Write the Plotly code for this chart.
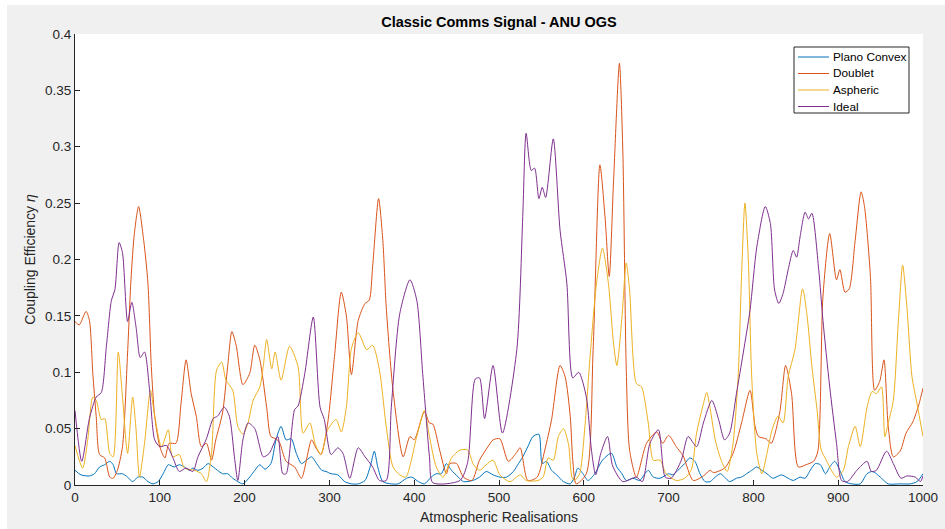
import plotly.graph_objects as go

# ---------------- data ----------------
pc_x = [0,7,17,23,29,35,41,45,49,56,62,68,74,80,86,92,98,104,110,117,123,129,135,139,145,151,157,163,168,174,180,186,192,198,206,212,218,224,231,237,243,249,255,261,267,273,279,285,291,296,302,310,318,326,334,342,348,353,357,363,373,381,391,397,405,412,420,426,432,438,444,452,458,469,477,485,493,501,509,517,523,528,534,540,547,551,556,562,568,576,584,589,593,599,605,613,621,629,633,639,645,650,658,666,672,676,682,690,700,705,711,719,725,731,737,743,749,755,761,766,772,780,786,792,798,804,810,816,823,833,841,847,855,861,867,873,879,885,890,896,902,908,916,926,934,940,945,951,959,973,985,993,1000]
pc_y = [0.013,0.009,0.008,0.010,0.016,0.018,0.021,0.018,0.010,0.010,0.007,0.003,0.007,0.007,0.003,0.001,0.003,0.010,0.018,0.016,0.018,0.016,0.013,0.015,0.013,0.015,0.019,0.016,0.013,0.010,0.010,0.006,0.003,0.001,0.007,0.013,0.018,0.014,0.019,0.040,0.052,0.040,0.041,0.028,0.019,0.022,0.025,0.019,0.013,0.012,0.010,0.009,0.003,0.001,0.001,0.004,0.016,0.030,0.016,0.003,0.001,0.001,0.006,0.007,0.003,0.001,0.007,0.010,0.010,0.019,0.013,0.007,0.003,0.004,0.007,0.012,0.009,0.007,0.007,0.012,0.019,0.025,0.034,0.043,0.045,0.019,0.021,0.013,0.009,0.003,0.001,0.007,0.015,0.010,0.004,0.010,0.021,0.027,0.028,0.016,0.010,0.004,0.006,0.004,0.010,0.013,0.007,0.006,0.010,0.009,0.013,0.019,0.024,0.021,0.010,0.003,0.003,0.007,0.010,0.007,0.003,0.006,0.007,0.010,0.013,0.016,0.013,0.010,0.006,0.009,0.006,0.004,0.007,0.006,0.013,0.019,0.018,0.010,0.016,0.021,0.013,0.003,0.001,0.001,0.010,0.012,0.010,0.006,0.001,0.001,0.001,0.003,0.010]

db_x = [0,5,13,17,21,25,29,35,41,45,50,56,62,66,70,75,81,86,90,94,100,106,111,119,125,131,137,143,149,155,161,166,174,180,185,190,198,206,212,218,226,231,237,241,249,259,267,279,284,290,298,306,314,320,326,334,342,347,351,358,363,367,375,387,395,400,412,418,422,430,438,442,450,458,468,477,487,493,501,511,520,525,534,545,554,562,572,578,584,587,591,603,611,619,625,630,635,642,646,650,654,662,674,686,693,700,709,717,729,741,749,753,766,776,786,796,802,806,815,821,831,838,845,853,862,871,876,882,890,898,902,908,913,920,927,931,938,943,949,954,959,965,973,980,988,995,1000]
db_y = [0.145,0.142,0.154,0.146,0.099,0.061,0.027,0.024,0.007,0.006,0.013,0.034,0.117,0.182,0.223,0.247,0.217,0.179,0.105,0.061,0.034,0.024,0.037,0.037,0.072,0.111,0.081,0.061,0.034,0.037,0.022,0.040,0.064,0.105,0.136,0.124,0.089,0.099,0.124,0.111,0.069,0.043,0.041,0.038,0.021,0.016,0.006,0.040,0.033,0.027,0.055,0.114,0.171,0.150,0.098,0.146,0.161,0.164,0.194,0.254,0.217,0.158,0.084,0.025,0.043,0.040,0.065,0.055,0.054,0.031,0.010,0.019,0.019,0.007,0.004,0.022,0.034,0.040,0.041,0.021,0.028,0.033,0.004,0.007,0.031,0.058,0.106,0.096,0.061,0.022,0.001,0.010,0.120,0.284,0.238,0.185,0.268,0.374,0.297,0.105,0.031,0.007,0.037,0.047,0.037,0.044,0.034,0.026,0.004,0.008,0.013,0.011,0.015,0.028,0.055,0.084,0.052,0.043,0.041,0.037,0.064,0.106,0.081,0.016,0.018,0.021,0.030,0.167,0.223,0.182,0.191,0.171,0.174,0.217,0.260,0.247,0.185,0.084,0.092,0.111,0.052,0.025,0.030,0.046,0.056,0.071,0.086]

as_x = [0,9,15,21,25,31,35,41,45,51,56,62,68,72,76,82,89,94,102,110,115,123,129,141,149,155,161,167,173,178,186,192,198,204,210,218,222,226,232,236,243,253,263,269,277,283,290,298,308,314,320,326,334,344,351,359,367,375,383,390,403,412,418,426,434,444,454,463,470,477,485,493,501,513,525,532,546,552,558,564,570,576,582,586,589,595,601,607,615,622,629,635,639,645,650,654,662,668,676,682,690,697,709,719,727,733,741,745,749,755,762,769,776,782,786,790,794,798,804,810,816,822,829,835,841,849,858,863,869,875,880,886,892,898,906,912,920,926,934,940,945,951,955,959,965,971,976,981,987,993,1000]
as_y = [0.035,0.015,0.040,0.078,0.075,0.058,0.059,0.028,0.025,0.118,0.078,0.028,0.078,0.049,0.007,0.037,0.084,0.061,0.034,0.049,0.025,0.027,0.015,0.013,0.010,0.003,0.028,0.102,0.109,0.093,0.084,0.052,0.045,0.055,0.075,0.087,0.105,0.129,0.103,0.118,0.093,0.123,0.105,0.046,0.055,0.037,0.027,0.049,0.058,0.047,0.069,0.121,0.135,0.120,0.124,0.102,0.052,0.016,0.009,0.007,0.043,0.066,0.043,0.016,0.007,0.024,0.031,0.031,0.018,0.013,0.018,0.022,0.009,0.003,0.009,0.004,0.004,0.007,0.024,0.022,0.043,0.050,0.036,0.007,0.004,0.010,0.049,0.110,0.179,0.210,0.179,0.126,0.106,0.149,0.197,0.173,0.090,0.087,0.055,0.022,0.022,0.010,0.004,0.006,0.014,0.046,0.072,0.082,0.068,0.040,0.022,0.012,0.037,0.096,0.185,0.250,0.200,0.096,0.028,0.010,0.028,0.049,0.061,0.055,0.096,0.120,0.174,0.152,0.105,0.067,0.031,0.022,0.013,0.007,0.013,0.034,0.052,0.034,0.069,0.083,0.081,0.087,0.043,0.055,0.075,0.146,0.195,0.158,0.096,0.072,0.043]

id_x = [0,8,17,25,31,37,43,47,52,56,62,67,72,77,82,88,94,100,108,115,123,131,139,145,155,163,168,176,182,188,192,198,204,212,222,229,239,245,249,259,263,271,281,289,294,302,310,316,324,334,342,351,359,367,373,383,395,403,410,418,422,454,463,472,477,483,493,504,521,528,532,538,542,547,551,555,564,572,580,587,594,603,609,614,620,628,634,646,662,669,678,688,696,703,715,723,733,741,751,759,766,772,780,788,796,804,814,820,825,830,835,841,847,851,855,861,865,869,877,882,890,898,904,911,922,934,939,945,957,965,974,981,991,997,1000]
id_y = [0.066,0.021,0.059,0.078,0.082,0.123,0.164,0.173,0.215,0.206,0.145,0.162,0.140,0.113,0.118,0.084,0.040,0.034,0.035,0.025,0.012,0.015,0.012,0.025,0.041,0.059,0.061,0.069,0.061,0.025,0.004,0.040,0.055,0.050,0.025,0.028,0.043,0.010,0.010,0.067,0.070,0.099,0.149,0.069,0.058,0.027,0.033,0.028,0.006,0.033,0.025,0.016,0.004,0.004,0.069,0.152,0.182,0.164,0.099,0.025,0.002,0.004,0.020,0.094,0.095,0.059,0.106,0.046,0.120,0.238,0.312,0.279,0.281,0.254,0.264,0.255,0.307,0.226,0.179,0.095,0.100,0.078,0.031,0.009,0.028,0.043,0.017,0.003,0.007,0.003,0.037,0.049,0.007,0.006,0.022,0.043,0.034,0.055,0.075,0.058,0.040,0.046,0.081,0.117,0.155,0.211,0.247,0.232,0.173,0.161,0.170,0.191,0.208,0.202,0.220,0.242,0.236,0.241,0.191,0.146,0.087,0.037,0.004,0.003,0.013,0.021,0.012,0.013,0.030,0.019,0.006,0.008,0.007,0.003,0.008]

series_names = ["Plano Convex", "Doublet", "Aspheric", "Ideal"]
series_colors = ["#0072BD", "#D95319", "#EDB120", "#7E2F8E"]

x_ticks = [0, 100, 200, 300, 400, 500, 600, 700, 800, 900, 1000]
y_ticks = [0, 0.05, 0.1, 0.15, 0.2, 0.25, 0.3, 0.35, 0.4]
y_tick_text = ["0", "0.05", "0.1", "0.15", "0.2", "0.25", "0.3", "0.35", "0.4"]

# ---------------- figure ----------------
W, H = 945, 529
L, R, T, B = 75, 22, 34, 44
FONT = "Liberation Sans, Arial, Helvetica, sans-serif"
AX = "#262626"
pw = W - L - R
ph = H - T - B


def px_x(p):
    return (p - L) / pw


def px_y(p):
    return (H - B - p) / ph


fig = go.Figure()
for xs, ys, name, col in zip([pc_x, db_x, as_x, id_x], [pc_y, db_y, as_y, id_y],
                             series_names, series_colors):
    fig.add_trace(go.Scatter(x=xs, y=ys, mode="lines", name=name, showlegend=False,
                             line=dict(color=col, width=1, shape="spline", smoothing=0.7)))

# gray figure background (thin white strip at top/left like the screenshot)
fig.add_shape(type="rect", xref="paper", yref="paper", layer="below",
              x0=px_x(7), x1=px_x(W + 2), y0=px_y(H + 2), y1=px_y(5),
              fillcolor="#F0F0F0", line=dict(width=0))
fig.add_shape(type="rect", xref="paper", yref="paper", layer="below",
              x0=0, x1=1, y0=0, y1=1, fillcolor="white", line=dict(width=0))

# legend box (MATLAB style, compact)
box_l, box_r, box_t, box_b = 794, 909, 47, 113
fig.add_shape(type="rect", xref="paper", yref="paper", layer="above",
              x0=px_x(box_l), x1=px_x(box_r), y0=px_y(box_b), y1=px_y(box_t),
              fillcolor="white", line=dict(color=AX, width=1))
entry_y = [57, 73.5, 90, 106.5]
for name, col, ey in zip(series_names, series_colors, entry_y):
    fig.add_shape(type="line", xref="paper", yref="paper", layer="above",
                  x0=px_x(798), x1=px_x(829), y0=px_y(ey), y1=px_y(ey),
                  line=dict(color=col, width=1))
    fig.add_annotation(text=name, xref="paper", yref="paper", x=px_x(831), y=px_y(ey),
                       xanchor="left", yanchor="middle", showarrow=False,
                       font=dict(size=11.8, color="black", family=FONT))

fig.update_layout(
    width=W, height=H,
    margin=dict(l=L, r=R, t=T, b=B, pad=0, autoexpand=False),
    paper_bgcolor="white", plot_bgcolor="white",
    font=dict(family=FONT, color=AX, size=13),
    title=dict(text="<b>Classic Comms Signal - ANU OGS</b>", x=0.5, xref="paper",
               y=1 - 22 / H, yanchor="middle", font=dict(size=14.5, color="black")),
    showlegend=False,
    xaxis=dict(range=[0, 1000], tickvals=x_ticks, ticks="inside", ticklen=5,
               tickcolor=AX, showline=True, linecolor=AX, linewidth=1,
               showgrid=False, zeroline=False, mirror=False, automargin=False,
               tickfont=dict(size=13.5, color=AX),
               title=dict(text="Atmospheric Realisations", font=dict(size=14, color=AX),
                          standoff=7)),
    yaxis=dict(range=[0, 0.4], tickvals=y_ticks, ticktext=y_tick_text, ticks="inside",
               ticklen=5, tickcolor=AX, showline=True, linecolor=AX, linewidth=1,
               showgrid=False, zeroline=False, mirror=False, automargin=False,
               tickfont=dict(size=13.5, color=AX),
               title=dict(text="Coupling Efficiency <i>η</i>", font=dict(size=14, color=AX),
                          standoff=6)),
)

fig.write_html("out.html")
